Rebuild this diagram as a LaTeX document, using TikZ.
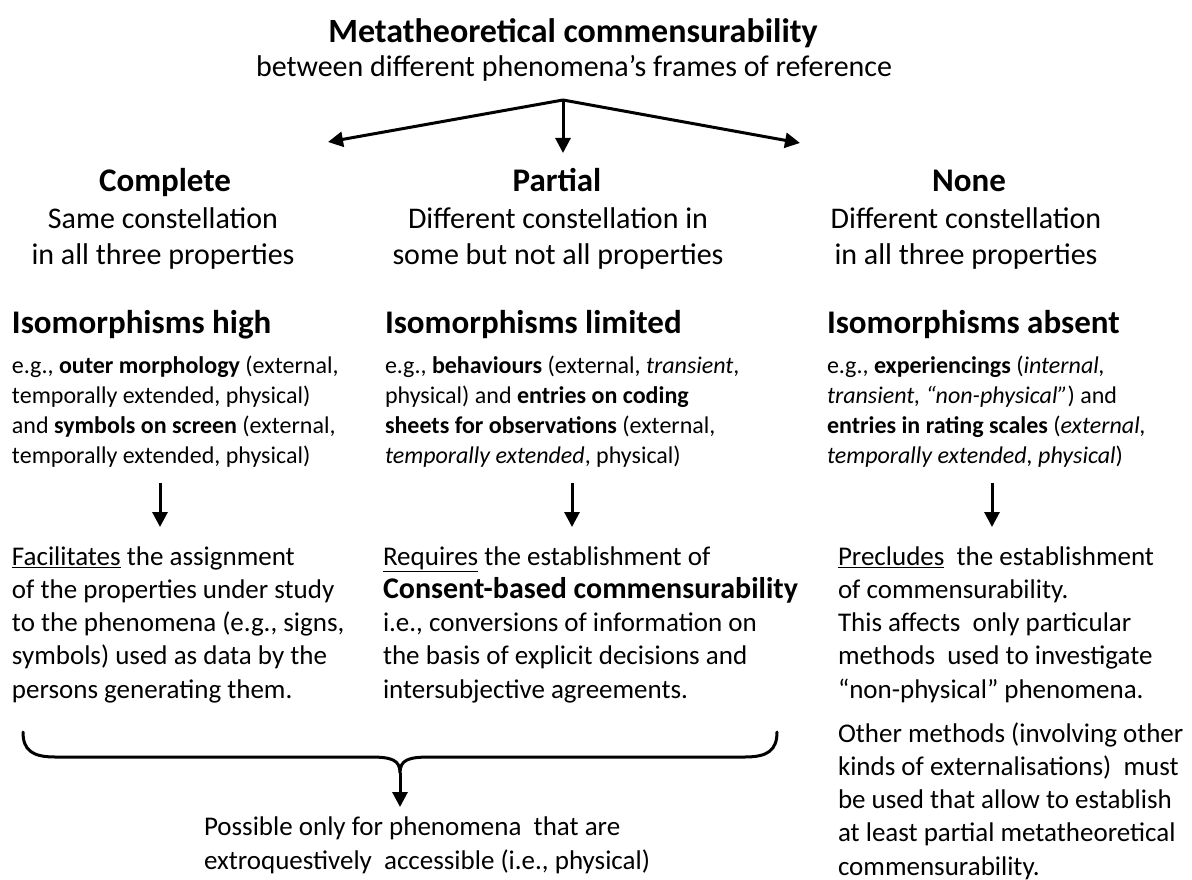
\documentclass[tikz,border=0pt]{standalone}
\usepackage{fontspec}
\setmainfont{Carlito}
\usetikzlibrary{arrows.meta}
\tikzset{
  txt/.style={inner sep=0pt, outer sep=0pt, align=left, anchor=base west},
  ctr/.style={inner sep=0pt, outer sep=0pt, align=center, anchor=base},
  ftitle/.style={font=\fontsize{34}{40}\selectfont\bfseries},
  fsub/.style={font=\fontsize{30}{35.5}\selectfont},
  fhead/.style={font=\fontsize{33}{40}\selectfont\bfseries},
  fiso/.style={font=\fontsize{33}{40}\selectfont\bfseries},
  fsmall/.style={font=\fontsize{24}{30}\selectfont},
  fbody/.style={font=\fontsize{27}{33.2}\selectfont},
  arr/.style={line width=3pt, -{Triangle[length=15pt,width=15pt]}},
  bracestyle/.style={line width=3pt, line cap=round},
}
\begin{document}
\begin{tikzpicture}[x=1pt,y=-1pt]
\useasboundingbox (0,0) rectangle (1192,880);
% title (base anchor of a multi-line node = its last line)
\node[ctr,ftitle] (title) at (573,43) {Metatheoretical commensurability};
\node[ctr,fsub] (subtitle) at (574,77) {between different phenomena’s frames of reference};
% top arrows
\coordinate (apex) at (563,100);
\coordinate (tipL) at (328,142);
\coordinate (tipM) at (563,153);
\coordinate (tipR) at (800,143);
\draw[arr] (apex) -- (tipL);
\draw[arr] (apex) -- (tipM);
\draw[arr] (apex) -- (tipR);
% headings
\node[ctr,fhead] (hC) at (165,192) {Complete};
\node[ctr,fsub] (sC) at (163,264) {Same constellation\\in all three properties};
\node[ctr,fhead] (hP) at (557,192) {Partial};
\node[ctr,fsub] (sP) at (558,264) {Different constellation in\\some but not all properties};
\node[ctr,fhead] (hN) at (969,192) {None};
\node[ctr,fsub] (sN) at (966,264) {Different constellation\\in all three properties};
% isomorphisms
\node[txt,fiso] (iC) at (12,333) {Isomorphisms high};
\node[txt,fiso] (iP) at (385,333) {Isomorphisms limited};
\node[txt,fiso] (iN) at (827,333) {Isomorphisms absent};
% examples
\node[txt,fsmall] (eC) at (12,463) {e.g., \textbf{outer morphology} (external,\\temporally extended, physical)\\and \textbf{symbols on screen} (external,\\temporally extended, physical)};
\node[txt,fsmall] (eP) at (385,463) {e.g., \textbf{behaviours} (external, \textit{transient},\\physical) and \textbf{entries on coding}\\\textbf{sheets for observations} (external,\\\textit{temporally extended}, physical)};
\node[txt,fsmall] (eN) at (827,463) {e.g., \textbf{experiencings} (\textit{internal,}\\\textit{transient, “non-physical”}) and\\\textbf{entries in rating scales} (\textit{external,}\\\textit{temporally extended, physical})};
% down arrows
\coordinate (aC1) at (160,483); \coordinate (aC2) at (160,527);
\coordinate (aP1) at (572,483); \coordinate (aP2) at (572,527);
\coordinate (aN1) at (992,483); \coordinate (aN2) at (992,527);
\draw[arr] (aC1) -- (aC2);
\draw[arr] (aP1) -- (aP2);
\draw[arr] (aN1) -- (aN2);
% consequences
\node[txt,fbody] (cC) at (12,698) {\underline{Facilitates} the assignment\\of the properties under study\\to the phenomena (e.g., signs,\\symbols) used as data by the\\persons generating them.};
\node[txt,fbody] (cP) at (383,698) {\underline{Requires} the establishment of\\{\fontsize{30}{33.2}\selectfont\bfseries Consent-based commensurability}\\i.e., conversions of information on\\the basis of explicit decisions and\\intersubjective agreements.};
\node[txt,fbody] (cN) at (838,698) {\underline{Precludes}\ \ the establishment\\of commensurability.\\This affects\ \ only particular\\methods\ \ used to investigate\\“non-physical” phenomena.};
\node[txt,fbody] (oN) at (838,875) {Other methods (involving other\\kinds of externalisations)\ \ must\\be used that allow to establish\\at least partial metatheoretical\\commensurability.};
% brace
\coordinate (bL) at (23,732);
\coordinate (bR) at (777,732);
\coordinate (cusp) at (400,773);
\coordinate (bTip) at (400,807);
\draw[bracestyle] (bL) .. controls (23,750) and (32,757) .. (55,757) -- (370,757)
   .. controls (392,757) and (400,760) .. (cusp)
   .. controls (400,760) and (408,757) .. (430,757) -- (745,757)
   .. controls (768,757) and (777,750) .. (bR);
\draw[arr] (cusp) -- (bTip);
\node[txt,fbody] (poss) at (204,869) {Possible only for phenomena\ \ that are\\extroquestively\ \ accessible (i.e., physical)};
\end{tikzpicture}
\end{document}
